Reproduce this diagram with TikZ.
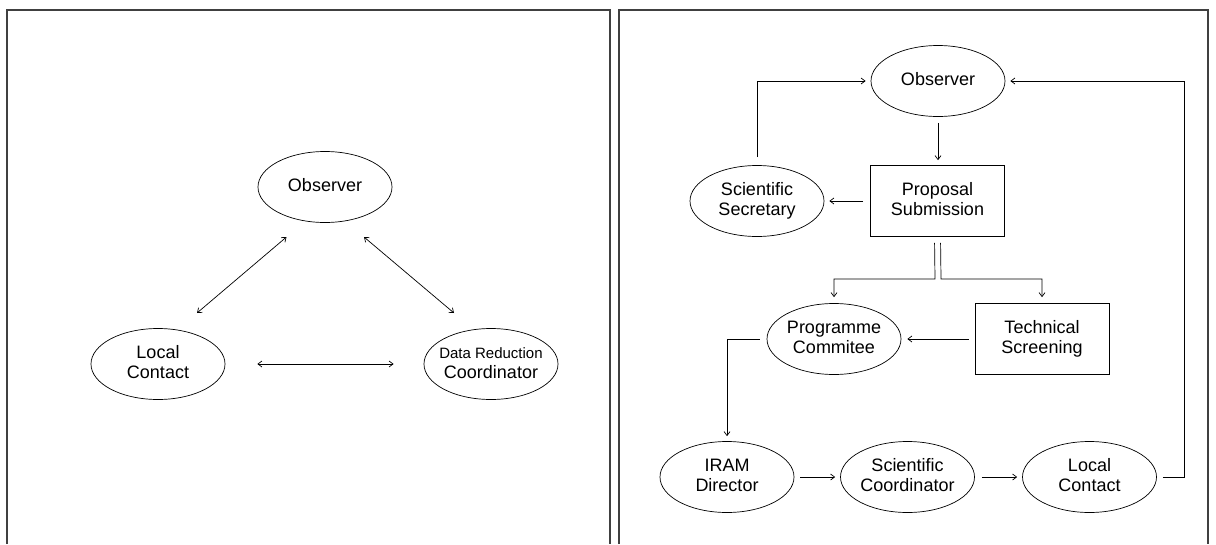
\documentclass[tikz,border=0pt]{standalone}
\usepackage{fontspec}
\setmainfont{Liberation Sans}
\usetikzlibrary{shapes.geometric,arrows.meta}
\newcommand\txt[1]{\makebox[0pt]{\begin{tabular}{@{}c@{}}#1\end{tabular}}}
\begin{document}
\begin{tikzpicture}[x=1pt,y=-1pt,
  font=\fontsize{18}{20}\selectfont,
  every node/.style={inner sep=0pt},
  ell/.style={ellipse,draw,line width=0.7pt,minimum width=134pt,minimum height=71pt},
  boxnode/.style={rectangle,draw,line width=0.7pt,minimum width=134pt,minimum height=71pt},
  conn/.style={line width=0.7pt},
  arr/.style={conn,-{Straight Barb[length=4pt,width=6pt]}},
  darr/.style={conn,{Straight Barb[length=4pt,width=6pt]}-{Straight Barb[length=4pt,width=6pt]}},
  frame/.style={line width=1.2pt,black!75}]
\useasboundingbox (0,0) rectangle (1216,544);
\tikzset{every node/.append style={}}
% frames
\draw[frame] (7,544) -- (7,10) -- (610,10) -- (610,544);
\draw[frame] (619,544) -- (619,10) -- (1208,10) -- (1208,544);
% left panel
\node[ell] (obsL) at (325,187) {\txt{Observer}};
\node[ell] (lcL) at (158,364) {\txt{Local\\Contact}};
\node[ell] (drc) at (491,364) {\txt{{\fontsize{15}{20}\selectfont Data Reduction}\\Coordinator}};
\draw[darr] ([shift={(-38.5,50)}]obsL.center) -- ([shift={(39,-51)}]lcL.center);
\draw[darr] ([shift={(39,50)}]obsL.center) -- ([shift={(-37,-51)}]drc.center);
\draw[darr,shorten <=32pt,shorten >=30pt] (lcL.east) -- (drc.west);
% right panel
\node[ell] (obsR) at (938,81) {\txt{Observer}};
\node[boxnode] (prop) at (937.5,201) {\txt{Proposal\\Submission}};
\node[ell] (sec) at (757,201) {\txt{Scientific\\Secretary}};
\node[ell] (prog) at (834,339) {\txt{Programme\\Commitee}};
\node[boxnode] (tech) at (1042,339) {\txt{Technical\\Screening}};
\node[ell] (iram) at (727,477) {\txt{IRAM\\Director}};
\node[ell] (scoord) at (907.5,477) {\txt{Scientific\\Coordinator}};
\node[ell] (lcR) at (1089.5,477) {\txt{Local\\Contact}};
\coordinate (split) at (938,279);
\draw[arr,shorten <=6pt,shorten >=5pt] (obsR.south) -- (obsR.south |- prop.north);
\draw[arr,shorten <=7pt,shorten >=5pt] (prop.west) -- (sec.east);
\draw[arr,shorten <=8pt,shorten >=5pt] (sec.north) |- (obsR.west);
\draw[arr,shorten <=6pt,shorten >=5pt] (lcR.east) -- ++(27,0) |- (obsR.east);
\draw[arr,shorten <=6pt,shorten >=6pt] ([xshift=-3pt]prop.south) -- ([xshift=-3pt]split) -| (prog.north);
\draw[arr,shorten <=6pt,shorten >=6pt] ([xshift=3pt]prop.south) -- ([xshift=3pt]split) -| (tech.north);
\draw[arr,shorten <=6pt,shorten >=6pt] (tech.west) -- (prog.east);
\draw[arr,shorten <=7pt,shorten >=5pt] (prog.west) -| (iram.north);
\draw[arr,shorten <=6pt,shorten >=5pt] (iram.east) -- (scoord.west);
\draw[arr,shorten <=7pt,shorten >=5pt] (scoord.east) -- (lcR.west);
\end{tikzpicture}
\end{document}
